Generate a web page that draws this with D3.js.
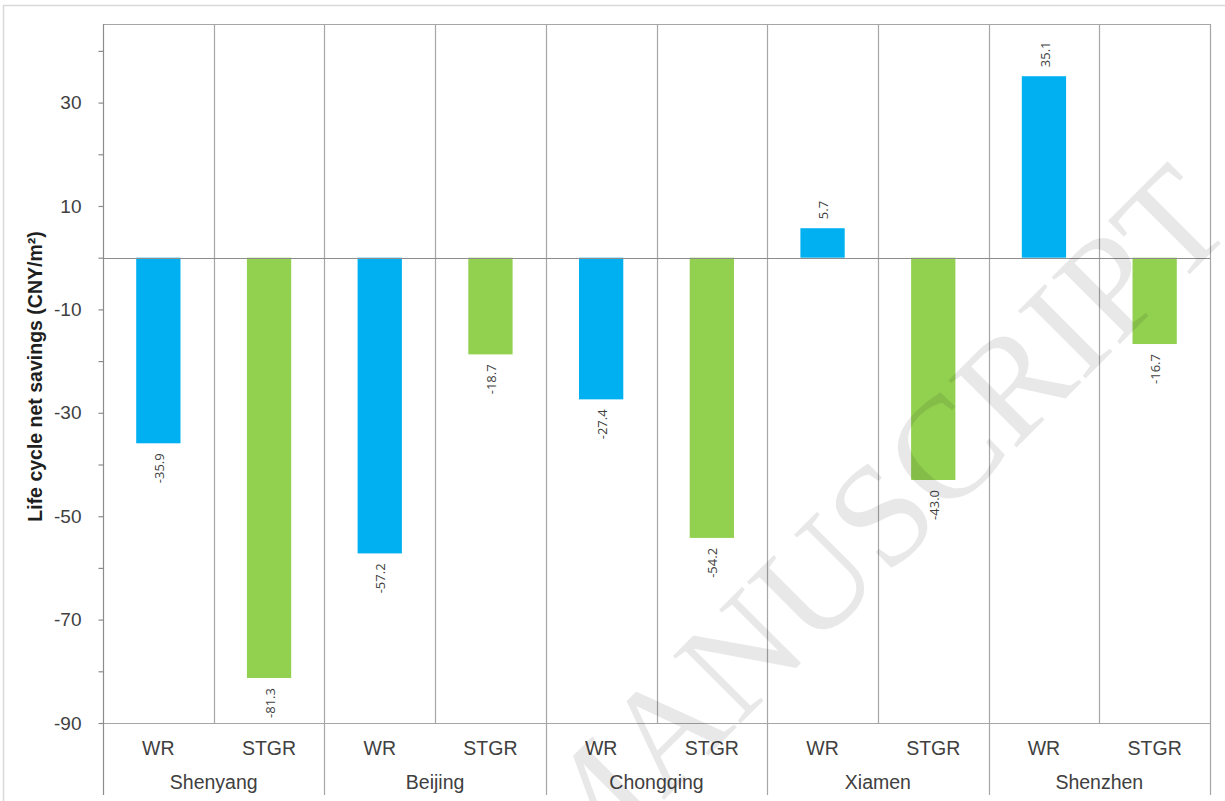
<!DOCTYPE html>
<html>
<head>
<meta charset="utf-8">
<script src="https://cdn.jsdelivr.net/npm/d3@7"></script>
<style>
  html, body { margin: 0; padding: 0; background: #fff; }
  svg { display: block; }
</style>
</head>
<body>
<svg id="chart" width="1225" height="801"></svg>
<script>
// ---- data ----
const cities = ["Shenyang", "Beijing", "Chongqing", "Xiamen", "Shenzhen"];
const types = ["WR", "STGR"];
const wrValues = [-35.9, -57.2, -27.4, 5.7, 35.1];
const stgrValues = [-81.3, -18.7, -54.2, -43.0, -16.7];
const yTickValues = [30, 10, -10, -30, -50, -70, -90];
const yMinorTickValues = [40, 20, 0, -20, -40, -60, -80];
const yTitle = "Life cycle net savings (CNY/m²)";
const watermark = "ACCEPTED MANUSCRIPT";

const colors = { WR: "#00B0F0", STGR: "#92D050" };

(function () {
const hyphen = s => s.replace("\u2212", "-");
// flattened records
const records = [];
cities.forEach((c, i) => {
  records.push({ city: c, type: "WR", key: c + "|WR", value: wrValues[i] });
  records.push({ city: c, type: "STGR", key: c + "|STGR", value: stgrValues[i] });
});

const svg = d3.select("#chart");
const pLeft = 103, pRight = 1210, pTop = 24, pBottom = 723;

// outer frame
svg.append("rect").attr("x", 3.5).attr("y", 5.5).attr("width", 1240).attr("height", 820)
  .attr("fill", "none").attr("stroke", "#d9d9d9").attr("stroke-width", 1.5);

const x = d3.scaleBand().domain(records.map(d => d.key)).range([pLeft, pRight])
  .paddingInner(0.6).paddingOuter(0.3);
const y = d3.scaleLinear().domain([-90, 45.2]).range([pBottom, pTop]);

const step = x.step();
const gridColor = "#a6a6a6";

// separators within plot (between every category)
records.forEach((d, i) => {
  if (i === 0) return;
  const xx = Math.round(pLeft + i * step) + 0.5;
  const isGroup = i % 2 === 0;
  svg.append("line").attr("x1", xx).attr("x2", xx).attr("y1", pTop)
    .attr("y2", isGroup ? 795 : pBottom)
    .attr("stroke", gridColor).attr("stroke-width", 1.2);
});
// right border and top border
svg.append("line").attr("x1", pRight + 0.5).attr("x2", pRight + 0.5).attr("y1", pTop).attr("y2", 795)
  .attr("stroke", gridColor).attr("stroke-width", 1.2);
svg.append("line").attr("x1", pLeft).attr("x2", pRight).attr("y1", pTop + 0.5).attr("y2", pTop + 0.5)
  .attr("stroke", gridColor).attr("stroke-width", 1.2);
// bottom (plot area) line
svg.append("line").attr("x1", pLeft).attr("x2", pRight).attr("y1", pBottom + 0.5).attr("y2", pBottom + 0.5)
  .attr("stroke", gridColor).attr("stroke-width", 1.2);

// bars
svg.append("g").selectAll("rect").data(records).join("rect")
  .attr("x", d => x(d.key))
  .attr("width", x.bandwidth())
  .attr("y", d => y(Math.max(0, d.value)))
  .attr("height", d => Math.abs(y(d.value) - y(0)))
  .attr("fill", d => colors[d.type]);

// zero line
svg.append("line").attr("x1", pLeft).attr("x2", pRight).attr("y1", Math.round(y(0)) + 0.5).attr("y2", Math.round(y(0)) + 0.5)
  .attr("stroke", "#8c8c8c").attr("stroke-width", 1.2);

// y axis
const yAxis = d3.axisLeft(y).tickValues(yTickValues).tickSize(5).tickPadding(17)
  .tickFormat(d => hyphen(d3.format("d")(d)));
const gy = svg.append("g").attr("transform", `translate(${pLeft + 0.5},0)`).call(yAxis);
gy.select(".domain").remove();
gy.selectAll(".tick line").attr("stroke", "#8c8c8c").attr("stroke-width", 1.2);
gy.selectAll(".tick text").attr("fill", "#404040")
  .style("font-family", "'Liberation Sans', Arial, sans-serif").style("font-size", "19px");
const gyMinor = svg.append("g").attr("transform", `translate(${pLeft + 0.5},0)`)
  .call(d3.axisLeft(y).tickValues(yMinorTickValues).tickSize(5).tickFormat(""));
gyMinor.select(".domain").remove();
gyMinor.selectAll(".tick line").attr("stroke", "#8c8c8c").attr("stroke-width", 1.2);
// axis line extending down through category area
svg.append("line").attr("x1", pLeft + 0.5).attr("x2", pLeft + 0.5).attr("y1", pTop).attr("y2", 795)
  .attr("stroke", "#8c8c8c").attr("stroke-width", 1.2);

// y title
svg.append("text")
  .attr("transform", `translate(42,${(pTop + pBottom) / 2 + 3}) rotate(-90)`)
  .attr("text-anchor", "middle")
  .attr("fill", "#1f1f1f")
  .style("font-family", "'Liberation Sans', Arial, sans-serif")
  .style("font-size", "19.5px").style("font-weight", "bold")
  .text(yTitle);

// category labels
svg.append("g").selectAll("text").data(records).join("text")
  .attr("x", d => x(d.key) + x.bandwidth() / 2)
  .attr("y", 755)
  .attr("text-anchor", "middle")
  .attr("fill", "#404040")
  .style("font-family", "'Liberation Sans', Arial, sans-serif").style("font-size", "19.5px")
  .text(d => d.type);

// city labels
svg.append("g").selectAll("text").data(cities).join("text")
  .attr("x", (d, i) => pLeft + (2 * i + 1) * step)
  .attr("y", 789)
  .attr("text-anchor", "middle")
  .attr("fill", "#404040")
  .style("font-family", "'Liberation Sans', Arial, sans-serif").style("font-size", "19.5px")
  .text(d => d);

// value labels
svg.append("g").selectAll("text").data(records).join("text")
  .attr("transform", d => {
    const cx = x(d.key) + x.bandwidth() / 2 + 1;
    const yy = d.value >= 0 ? y(d.value) - 9 : y(d.value) + 10;
    return `translate(${cx},${yy}) rotate(-90)`;
  })
  .attr("text-anchor", d => d.value >= 0 ? "start" : "end")
  .attr("dy", "0.35em")
  .attr("fill", "#404040")
  .style("font-family", "'Open Sans', 'Noto Sans', sans-serif").style("font-size", "13px")
  .text(d => hyphen(d3.format(".1f")(d.value)));

// watermark
svg.append("text")
  .attr("transform", "translate(904,560) rotate(-45)")
  .attr("text-anchor", "middle")
  .attr("fill", "#000").attr("fill-opacity", 0.09)
  .style("font-family", "'Liberation Serif', 'DejaVu Serif', serif").style("font-size", "146px")
  .text(watermark.split(" ")[1]);
})();
</script>
</body>
</html>
